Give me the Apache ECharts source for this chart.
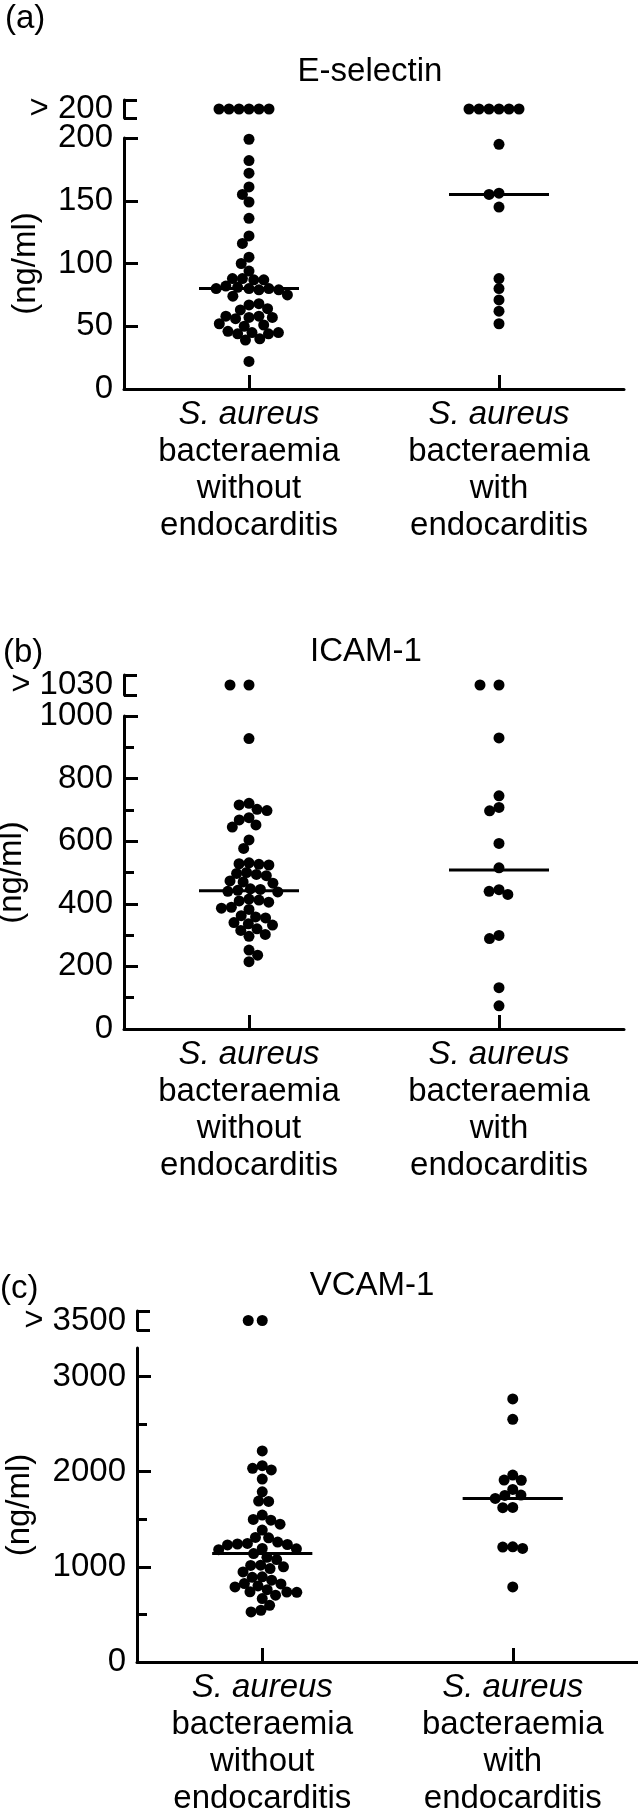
<!DOCTYPE html>
<html>
<head>
<meta charset="utf-8">
<script src="https://cdn.jsdelivr.net/npm/echarts@6/dist/echarts.min.js"></script>
<style>
  html, body { margin: 0; padding: 0; background: #fff; }
  #chart { width: 638px; height: 1815px; }
</style>
</head>
<body>
<div id="chart"></div>
<script>
// ---- data ----
const categories = [
    'S. aureus\nbacteraemia\nwithout\nendocarditis',
    'S. aureus\nbacteraemia\nwith\nendocarditis'
];
const panelLetters = ['(a)', '(b)', '(c)'];
const panelTitles = ['E-selectin', 'ICAM-1', 'VCAM-1'];
const overLabels = ['> 200', '> 1030', '> 3500'];
const yUnit = '(ng/ml)';

// y axis range and ticks
const yMax = [200, 1000, 3300];
const yLabelValues = [
    [0, 50, 100, 150, 200],
    [0, 200, 400, 600, 800, 1000],
    [0, 1000, 2000, 3000]
];
const yMinorValues = [
    [],
    [100, 300, 500, 700, 900],
    [500, 1500, 2500]
];

// E-selectin (ng/ml)
const eselWithout = [199, 182, 172, 161, 155, 149, 136, 122, 116, 105, 100, 94,
    88, 87, 87, 88, 80, 81, 79, 80, 82, 79, 80, 74, 75, 67, 68, 63, 64,
    57, 58, 56, 58, 57, 51, 52, 50, 45, 44, 46, 44, 45, 39, 40, 22];
const eselWith = [195, 156, 155, 145, 88, 80, 71, 62, 52];
const eselOver = [6, 6];      // points above the axis break
const eselMedian = [80, 155];

// ICAM-1 (ng/ml)
const icamWithout = [928, 721, 716, 702, 698, 675, 668, 652, 645, 604, 577,
    531, 528, 526, 524, 500, 497, 494, 490, 473, 470, 466, 448, 446, 443, 440, 438,
    415, 412, 409, 405, 389, 386, 382, 362, 358, 355, 340, 336, 332, 320, 315,
    302, 296, 252, 236, 215];
const icamWith = [930, 745, 708, 697, 593, 515, 445, 440, 430, 299, 289, 132, 74];
const icamOver = [2, 2];
const icamMedian = [442, 508];

// VCAM-1 (ng/ml)
const vcamWithout = [2218, 2063, 2035, 2018, 1923, 1789, 1691, 1688, 1544, 1498,
    1491, 1449, 1386, 1309, 1305, 1260, 1246, 1240, 1235, 1230, 1193, 1190, 1180,
    1140, 1100, 1077, 1018, 1015, 1000, 982, 947, 895, 890, 860, 825, 820, 800,
    789, 760, 737, 735, 732, 702, 667, 596, 544, 526];
const vcamWith = [2765, 2551, 1965, 1912, 1910, 1814, 1754, 1750, 1719, 1625, 1622,
    1211, 1208, 1193, 789];
const vcamOver = [2, 0];
const vcamMedian = [1140, 1719];

const groups = [
    [eselWithout, eselWith, eselOver, eselMedian],
    [icamWithout, icamWith, icamOver, icamMedian],
    [vcamWithout, vcamWith, vcamOver, vcamMedian]
];

// ---- layout (pixels) ----
const FONT = 'Liberation Sans';
const FS = 33;
const layout = [
    {left: 124, width: 500, top: 138, height: 251, overTop: 100, overHeight: 18,
        nameGap: 82, titleX: 370, titleY: 72, letterX: 5, letterY: 19, overMargin: -1},
    {left: 124, width: 500, top: 716, height: 313, overTop: 675, overHeight: 20,
        nameGap: 83, titleX: 366, titleY: 652, letterX: 3, letterY: 653, overMargin: 8},
    {left: 137, width: 501, top: 1348, height: 314, overTop: 1311, overHeight: 19,
        nameGap: 101, titleX: 372, titleY: 1286, letterX: 0, letterY: 1289, overMargin: 3}
];

const black = {color: '#000', width: 3};
const textStyle = {fontSize: FS, fontFamily: FONT, color: '#000'};

function xLabel(v) {
    let lines = v.split('\n');
    return '{i|' + lines[0] + '}\n' + lines.slice(1).map(l => '{n|' + l + '}').join('\n');
}

let grid = [], xAxis = [], yAxis = [], series = [], graphic = [];

groups.forEach((g, i) => {
    let L = layout[i];
    let [without, withE, over, median] = g;

    // main grid
    let gi = grid.length;
    grid.push({left: L.left, top: L.top, width: L.width, height: L.height, outerBoundsMode: 'none', containLabel: false});
    let xi = xAxis.length;
    xAxis.push({
        type: 'category', gridIndex: gi, data: categories,
        jitter: 200, jitterOverlap: false, jitterMargin: -1,
        axisLine: {show: true, lineStyle: black},
        axisTick: {show: true, inside: true, alignWithLabel: true, length: 14, lineStyle: black},
        axisLabel: {
            interval: 0, margin: 7, formatter: xLabel,
            rich: {
                i: {fontSize: FS, fontFamily: FONT, color: '#000', fontStyle: 'italic', lineHeight: 37},
                n: {fontSize: FS, fontFamily: FONT, color: '#000', lineHeight: 37}
            }
        },
        splitLine: {show: false}
    });
    let yi = yAxis.length;
    yAxis.push({
        type: 'value', gridIndex: gi, position: 'left', min: 0, max: yMax[i],
        axisLine: {show: true, lineStyle: black},
        axisTick: {show: true, inside: true, length: 14, lineStyle: black, customValues: yLabelValues[i]},
        axisLabel: Object.assign({customValues: yLabelValues[i], margin: 11, formatter: v => String(v)}, textStyle),
        splitLine: {show: false},
        name: yUnit, nameLocation: 'middle', nameGap: L.nameGap, nameTextStyle: textStyle
    });
    if (yMinorValues[i].length) {
        yAxis.push({
            type: 'value', gridIndex: gi, position: 'left', min: 0, max: yMax[i],
            axisLine: {show: false},
            axisTick: {show: true, inside: true, length: 10, lineStyle: black, customValues: yMinorValues[i]},
            axisLabel: {show: false},
            splitLine: {show: false}
        });
    }

    // small grid above the axis break
    let go = grid.length;
    grid.push({left: L.left, top: L.overTop, width: L.width, height: L.overHeight, outerBoundsMode: 'none', containLabel: false});
    let xo = xAxis.length;
    xAxis.push({
        type: 'category', gridIndex: go, data: categories, show: false,
        jitter: 200, jitterOverlap: false, jitterMargin: L.overMargin
    });
    let yo = yAxis.length;
    yAxis.push({
        type: 'value', gridIndex: go, position: 'left', min: 0, max: 2,
        axisLine: {show: true, lineStyle: black},
        axisTick: {show: true, inside: true, length: 13, lineStyle: black, customValues: [0, 2]},
        axisLabel: Object.assign({customValues: [1], margin: 11, formatter: () => overLabels[i]}, textStyle),
        splitLine: {show: false}
    });

    let dot = {type: 'scatter', symbolSize: 11, itemStyle: {color: '#000', opacity: 1}, silent: true};
    series.push(Object.assign({}, dot, {xAxisIndex: xi, yAxisIndex: yi, data: without.map(v => [0, v])}));
    series.push(Object.assign({}, dot, {xAxisIndex: xi, yAxisIndex: yi, data: withE.map(v => [1, v])}));
    let overData = [];
    over.forEach((n, j) => { for (let k = 0; k < n; k++) overData.push([j, 1]); });
    series.push(Object.assign({}, dot, {xAxisIndex: xo, yAxisIndex: yo, data: overData}));

    // median bars
    series.push({
        type: 'custom', xAxisIndex: xi, yAxisIndex: yi, silent: true, z: 3,
        encode: {x: 0, y: 1},
        data: median.map((m, j) => [j, m]),
        renderItem: (params, api) => {
            let c = api.coord([api.value(0), api.value(1)]);
            let w = api.size([1, 0])[0] * 0.4;
            return {
                type: 'line',
                shape: {x1: c[0] - w / 2, y1: c[1], x2: c[0] + w / 2, y2: c[1]},
                style: {stroke: '#000', lineWidth: 3}
            };
        }
    });

    graphic.push({type: 'text', x: L.letterX, y: L.letterY,
        style: {text: panelLetters[i], font: FS + 'px "' + FONT + '"', fill: '#000', align: 'left', verticalAlign: 'middle'}});
    graphic.push({type: 'text', x: L.titleX, y: L.titleY,
        style: {text: panelTitles[i], font: FS + 'px "' + FONT + '"', fill: '#000', align: 'center', verticalAlign: 'middle'}});
});

let chart = echarts.init(document.getElementById('chart'));
chart.setOption({
    backgroundColor: '#fff',
    animation: false,
    textStyle: {fontFamily: FONT},
    grid: grid,
    xAxis: xAxis,
    yAxis: yAxis,
    series: series,
    graphic: graphic
});
</script>
</body>
</html>
